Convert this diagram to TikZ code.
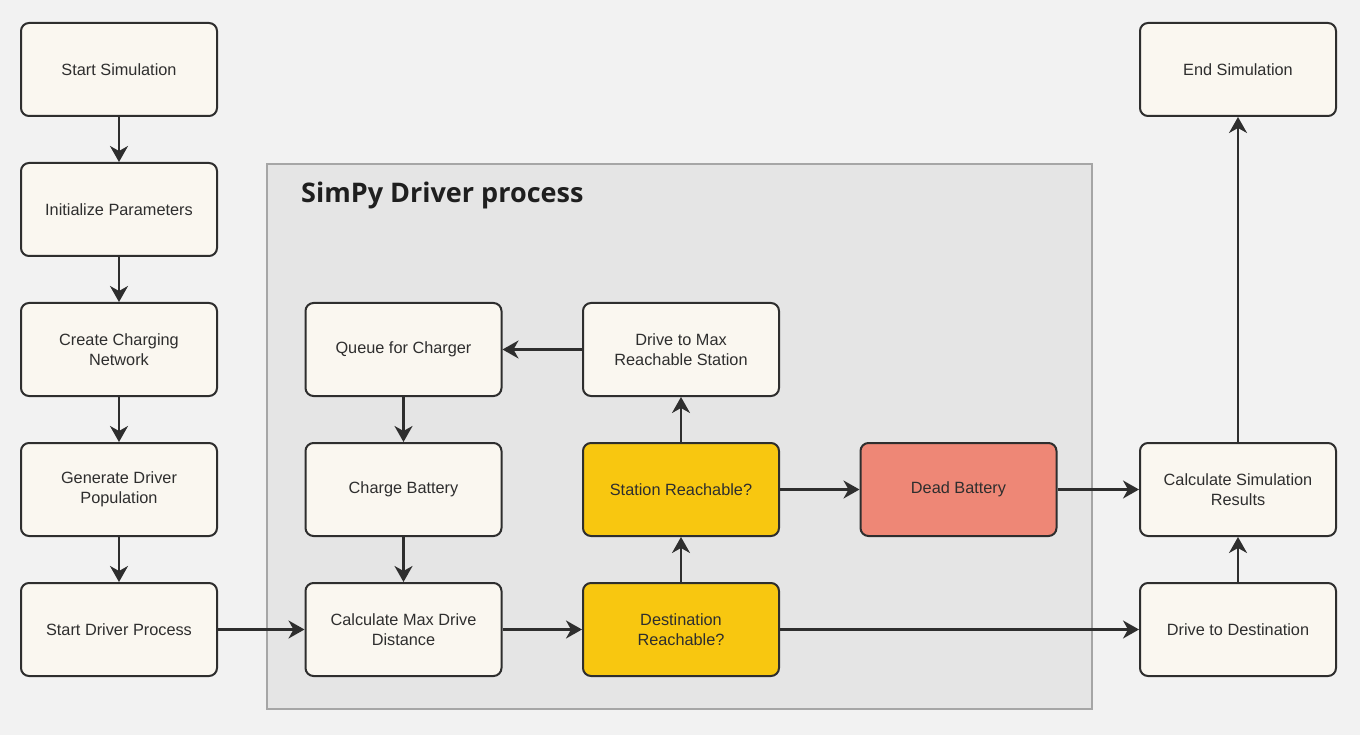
\documentclass[tikz,border=0pt]{standalone}
\usepackage{fontspec}
\setmainfont{Liberation Sans}
\newfontfamily\titlefont{Open Sans}
\usetikzlibrary{arrows.meta}

\definecolor{bg}{HTML}{F2F2F2}
\definecolor{grp}{HTML}{E5E5E5}
\definecolor{grpline}{HTML}{A6A6A6}
\definecolor{step}{HTML}{FAF7F0}
\definecolor{test}{HTML}{F8C710}
\definecolor{fail}{HTML}{EE8776}
\definecolor{ink}{HTML}{2E2E2E}

\tikzset{
  box/.style={draw=ink, line width=2pt, rounded corners=8pt, fill=step,
    minimum width=196pt, minimum height=93pt, align=center,
    text=ink, font=\fontsize{16.3}{19.5}\selectfont},
  flow/.style={draw=ink, line width=2.2pt,
    -{Stealth[length=16pt, width=18pt, inset=5pt]}}
}

\begin{document}
\begin{tikzpicture}[x=1pt, y=-1pt]
  \useasboundingbox (0,0) rectangle (1360,735);
  \fill[bg] (0,0) rectangle (1360,735);
  \draw[fill=grp, draw=grpline, line width=2.5pt] (267,164) rectangle (1092,709);
  \draw (301,195) node[anchor=west, inner sep=0pt, text=black!88, font=\titlefont\bfseries\fontsize{27}{31}\selectfont] (title) {SimPy Driver process};

  \draw (119,69.5)   node[box] (start) {Start Simulation};
  \draw (119,209.5)  node[box] (init) {Initialize Parameters};
  \draw (119,349.5)  node[box] (network) {Create Charging\\Network};
  \draw (119,489.5)  node[box] (population) {Generate Driver\\Population};
  \draw (119,629.5)  node[box] (startproc) {Start Driver Process};
  \draw (403.5,349.5) node[box] (queue) {Queue for Charger};
  \draw (403.5,489.5) node[box] (charge) {Charge Battery};
  \draw (403.5,629.5) node[box] (maxdist) {Calculate Max Drive\\Distance};
  \draw (681,349.5)  node[box] (drivemax) {Drive to Max\\Reachable Station};
  \draw (681,489.5)  node[box, fill=test] (stationok) {Station Reachable?};
  \draw (681,629.5)  node[box, fill=test] (destok) {Destination\\Reachable?};
  \draw (958.5,489.5) node[box, fill=fail] (dead) {Dead Battery};
  \draw (1238,69.5)  node[box] (finish) {End Simulation};
  \draw (1238,489.5) node[box] (results) {Calculate Simulation\\Results};
  \draw (1238,629.5) node[box] (drivedest) {Drive to Destination};

  \draw[flow] (start) -- (init);
  \draw[flow] (init) -- (network);
  \draw[flow] (network) -- (population);
  \draw[flow] (population) -- (startproc);
  \draw[flow] (startproc) -- (maxdist);
  \draw[flow] (maxdist) -- (destok);
  \draw[flow] (destok) -- (drivedest);
  \draw[flow] (destok) -- (stationok);
  \draw[flow] (stationok) -- (drivemax);
  \draw[flow] (drivemax) -- (queue);
  \draw[flow] (queue) -- (charge);
  \draw[flow] (charge) -- (maxdist);
  \draw[flow] (stationok) -- (dead);
  \draw[flow] (dead) -- (results);
  \draw[flow] (drivedest) -- (results);
  \draw[flow] (results) -- (finish);
\end{tikzpicture}
\end{document}
